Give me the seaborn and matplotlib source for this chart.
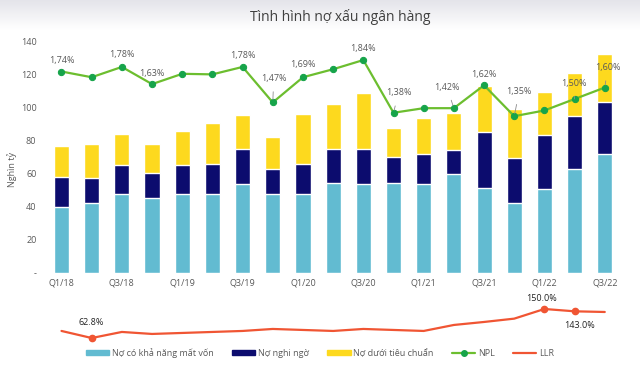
import numpy as np
import pandas as pd
import matplotlib
matplotlib.use('Agg')
import matplotlib.pyplot as plt
from matplotlib.patches import Patch
from matplotlib.lines import Line2D
import seaborn as sns

# data
quarters = ['Q1/18', 'Q2/18', 'Q3/18', 'Q4/18', 'Q1/19', 'Q2/19', 'Q3/19', 'Q4/19',
            'Q1/20', 'Q2/20', 'Q3/20', 'Q4/20', 'Q1/21', 'Q2/21', 'Q3/21', 'Q4/21',
            'Q1/22', 'Q2/22', 'Q3/22']
mat_von = [40, 42.5, 47.5, 45.5, 47.5, 48, 54, 48, 48, 54.5, 53.5, 54.5, 54, 59.5, 51.5, 42, 51, 62.5, 72]
nghi_ngo = [18, 15, 17.5, 15, 17.5, 18, 21, 15, 18, 20.5, 21.5, 15.5, 18, 15, 33.5, 27.5, 32, 32, 31.5]
duoi_tc = [18.5, 20.5, 19, 17.5, 21, 24.5, 20.5, 19, 30, 27, 33.5, 17.5, 21.5, 22, 28, 29.5, 26, 26.5, 28.5]
npl = [1.74, 1.69, 1.78, 1.63, 1.72, 1.715, 1.78, 1.47, 1.69, 1.76, 1.84, 1.38,
       1.42, 1.42, 1.62, 1.35, 1.40, 1.50, 1.60]
npl_shown = [0, 2, 3, 6, 7, 8, 10, 11, 13, 14, 15, 17, 18]
llr = [84, 62.8, 81, 75, 78, 81, 84, 90, 87, 84, 90, 87, 84, 102, 111, 121, 150, 143, 141]
llr_shown = [1, 16, 17]

df = pd.DataFrame({'quarter': quarters, 'mat_von': mat_von, 'nghi_ngo': nghi_ngo,
                   'duoi_tc': duoi_tc, 'npl': npl, 'llr': llr})
df['lvl2'] = df['mat_von'] + df['nghi_ngo']
df['total'] = df['lvl2'] + df['duoi_tc']

c_teal = '#62BBD1'
c_navy = '#0C0C6E'
c_yell = '#FDD91E'
c_green = '#6CBE2F'
c_dot = '#16A44A'
c_red = '#F05533'
c_txt = '#595959'

sns.set_theme(style='white')
plt.rcParams['font.family'] = ['Open Sans', 'DejaVu Sans']

fig = plt.figure(figsize=(6.4, 3.68), dpi=100)

# faint grey band at the very top
bg = fig.add_axes([0, 1 - 30 / 368, 1, 30 / 368], zorder=-5)
grad = np.linspace(0, 1, 64).reshape(-1, 1)
bg.imshow(grad, aspect='auto', cmap=sns.blend_palette(['#e4e4ea', '#ffffff'], as_cmap=True),
          extent=[0, 1, 0, 1], origin='upper')
bg.axis('off')

ax = fig.add_axes([42 / 640, 0.258, 583 / 640, 0.6305])
ax.patch.set_alpha(0)

sns.barplot(data=df, x='quarter', y='total', color=c_yell, width=0.5, saturation=1, ax=ax)
sns.barplot(data=df, x='quarter', y='lvl2', color=c_navy, width=0.5, saturation=1, ax=ax)
sns.barplot(data=df, x='quarter', y='mat_von', color=c_teal, width=0.5, saturation=1, ax=ax)

ax.set_xlim(-0.646, 18.67)
ax.set_ylim(0, 140)
ax.set_yticks(range(0, 141, 20))
ax.set_yticklabels(['-'] + [str(v) for v in range(20, 141, 20)])
ax.set_xticks(range(0, len(quarters), 2))
ax.set_xticklabels(quarters[::2])
ax.set_xlabel('')
ax.set_ylabel('')
ax.tick_params(length=0, labelsize=6.5, colors=c_txt, pad=4)
sns.despine(ax=ax, left=True, bottom=True)
fig.text(12 / 640, 1 - 170 / 368, 'Nghìn tỷ', rotation=90, ha='center', va='center',
         fontsize=6.5, color=c_txt)

# NPL on hidden secondary axis
ax2 = ax.twinx()
sns.lineplot(x=np.arange(len(npl)), y=npl, ax=ax2, color=c_green, lw=1.6,
             marker='o', markersize=4.5, markerfacecolor=c_dot, markeredgecolor=c_dot)
ax2.set_ylim(-0.019, 2.006)
ax2.axis('off')
ax2.set_xlim(-0.646, 18.67)

# label offsets in pixels (dx, dy) and whether a leader line is drawn
npl_off = {0: (0, 11, False), 2: (0, 12, False), 3: (0, 11, False), 6: (0, 11, False),
           7: (1, 24, True), 8: (0, 13, False), 10: (0, 12, False), 11: (5, 20, True),
           13: (-7, 21, True), 14: (0, 11, False), 15: (5, 25, True), 17: (-1, 16, True),
           18: (3, 20, True)}
for i in npl_shown:
    dx, dy, lead = npl_off[i]
    txt = f'{npl[i]:.2f}%'.replace('.', ',')
    ax2.annotate(txt, (i, npl[i]), xytext=(dx * 0.72, dy * 0.72), textcoords='offset points',
                 ha='center', va='center', fontsize=6.5, color=c_txt,
                 arrowprops=dict(arrowstyle='-', color='#8c8c8c', lw=0.6, shrinkA=4, shrinkB=2)
                 if lead else None)

# LLR strip
ax3 = fig.add_axes([42 / 640, 23 / 368, 583 / 640, 45 / 368])
sns.lineplot(x=np.arange(len(llr)), y=llr, ax=ax3, color=c_red, lw=1.6)
for i in llr_shown:
    ax3.plot(i, llr[i], 'o', color=c_red, markersize=4.5)
ax3.set_xlim(-0.646, 18.67)
ax3.set_ylim(41.8, 177)
ax3.axis('off')
llr_off = {1: (0, 16), 16: (-3, 10), 17: (5, -14)}
for i in llr_shown:
    dx, dy = llr_off[i]
    ax3.annotate(f'{llr[i]:.1f}%', (i, llr[i]), xytext=(dx * 0.72, dy * 0.72),
                 textcoords='offset points', ha='center', va='center', fontsize=6.5, color='#222222')

fig.text(340 / 640, 1 - 17 / 368, 'Tình hình nợ xấu ngân hàng', ha='center', va='center',
         fontsize=10, color='#404040')

handles = [Patch(color=c_teal), Patch(color=c_navy), Patch(color=c_yell),
           Line2D([], [], color=c_green, lw=1.6, marker='o', markersize=4,
                  markerfacecolor=c_dot, markeredgecolor=c_dot),
           Line2D([], [], color=c_red, lw=1.6)]
labels = ['Nợ có khả năng mất vốn', 'Nợ nghi ngờ', 'Nợ dưới tiêu chuẩn', 'NPL', 'LLR']
leg = fig.legend(handles, labels, loc='center', bbox_to_anchor=(0.5, 1 - 353 / 368), ncol=5,
                 frameon=False, fontsize=6.5, handlelength=2.6, handleheight=0.5,
                 handletextpad=0.3, columnspacing=2.0)
for t in leg.get_texts():
    t.set_color(c_txt)

fig.savefig('out.png', dpi=100)
